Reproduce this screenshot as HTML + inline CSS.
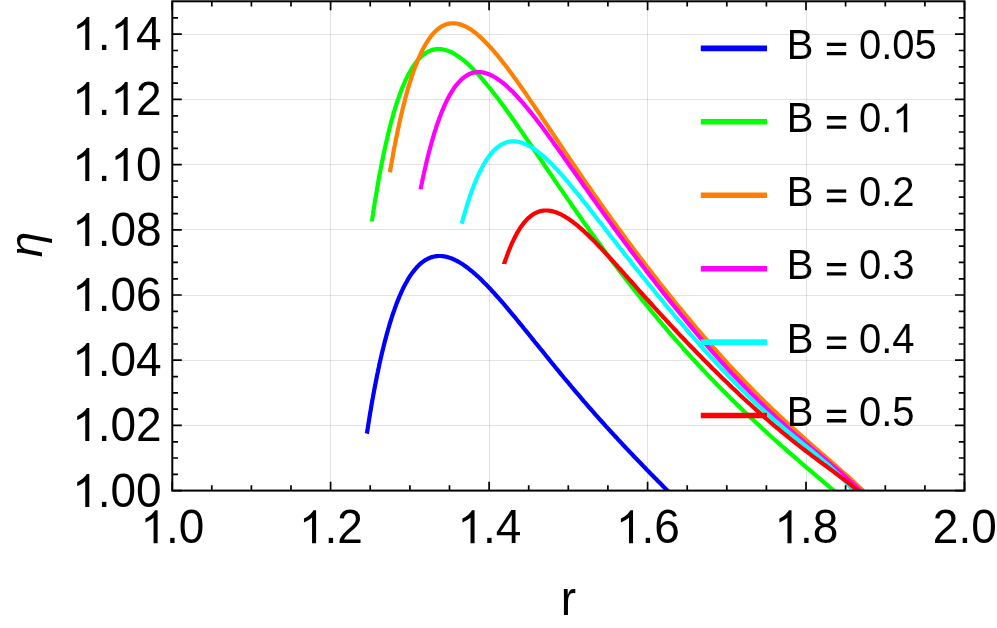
<!DOCTYPE html>
<html><head><meta charset="utf-8"><title>eta vs r</title>
<style>html,body{margin:0;padding:0;background:#fff}svg{display:block;will-change:transform}text{font-family:"Liberation Sans",sans-serif;fill:#000}</style></head><body>
<svg width="997" height="628" viewBox="0 0 997 628">
<rect width="997" height="628" fill="#fff"/>
<defs><clipPath id="c"><rect x="172.3" y="1.3" width="792.2" height="489.3"/></clipPath></defs>
<path d="M330.5,1.3 V490.65 M489.5,1.3 V490.65 M647.5,1.3 V490.65 M806.5,1.3 V490.65" stroke="#000" stroke-opacity="0.11" stroke-width="1" fill="none"/>
<path d="M172.3,425.5 H964.5 M172.3,360.5 H964.5 M172.3,295.5 H964.5 M172.3,229.5 H964.5 M172.3,164.5 H964.5 M172.3,99.5 H964.5 M172.3,34.5 H964.5" stroke="#000" stroke-opacity="0.11" stroke-width="1" fill="none"/>
<g clip-path="url(#c)" fill="none" stroke-linejoin="round" stroke-linecap="butt">
<path d="M366.9,433.6 L367.0,433.3 L367.0,432.8 L367.2,432.0 L367.3,431.0 L367.5,430.0 L367.7,428.7 L367.9,427.4 L368.1,425.9 L368.3,424.4 L368.6,422.7 L368.9,421.0 L369.2,419.1 L369.5,417.2 L369.8,415.3 L370.1,413.2 L370.5,411.1 L370.9,409.0 L371.2,406.8 L371.6,404.5 L372.0,402.2 L372.4,399.8 L372.9,397.4 L373.3,395.0 L373.8,392.5 L374.2,390.1 L374.7,387.5 L375.2,385.0 L375.7,382.5 L376.2,379.9 L376.7,377.3 L377.2,374.7 L377.8,372.1 L378.3,369.5 L378.9,366.9 L379.4,364.2 L380.0,361.6 L380.6,359.0 L381.2,356.4 L381.8,353.8 L382.4,351.2 L383.1,348.6 L383.7,346.0 L384.3,343.5 L385.0,340.9 L385.7,338.4 L386.3,335.9 L387.0,333.4 L387.7,331.0 L388.4,328.5 L389.1,326.1 L389.8,323.7 L390.5,321.4 L391.3,319.0 L392.0,316.7 L392.7,314.5 L393.5,312.2 L394.3,310.0 L395.0,307.9 L395.8,305.7 L396.6,303.6 L397.4,301.6 L398.2,299.6 L399.0,297.6 L399.8,295.7 L400.7,293.8 L401.5,291.9 L402.3,290.1 L403.2,288.3 L404.0,286.6 L404.9,284.9 L405.8,283.3 L406.7,281.7 L407.5,280.1 L408.4,278.6 L409.3,277.2 L410.2,275.8 L411.2,274.4 L412.1,273.1 L413.0,271.9 L414.0,270.6 L414.9,269.5 L415.9,268.4 L416.8,267.3 L417.8,266.3 L418.7,265.3 L419.7,264.4 L420.7,263.5 L421.7,262.7 L422.7,261.9 L423.7,261.2 L424.7,260.5 L425.7,259.9 L426.8,259.3 L427.8,258.7 L428.8,258.3 L429.9,257.8 L430.9,257.4 L432.0,257.1 L433.1,256.8 L434.1,256.5 L435.2,256.3 L436.3,256.2 L437.4,256.1 L438.5,256.0 L439.6,256.0 L440.7,256.0 L441.8,256.1 L442.9,256.2 L444.1,256.4 L445.2,256.6 L446.4,256.8 L447.5,257.1 L448.7,257.5 L449.8,257.8 L451.0,258.2 L452.2,258.7 L453.3,259.2 L454.5,259.7 L455.7,260.3 L456.9,260.9 L458.1,261.6 L459.3,262.3 L460.5,263.0 L461.8,263.8 L463.0,264.6 L464.2,265.4 L465.5,266.3 L466.7,267.2 L468.0,268.1 L469.2,269.1 L470.5,270.1 L471.7,271.2 L473.0,272.2 L474.3,273.3 L475.6,274.5 L476.9,275.6 L478.2,276.8 L479.5,278.0 L480.8,279.3 L482.1,280.6 L483.4,281.9 L484.7,283.2 L486.1,284.5 L487.4,285.9 L488.7,287.3 L490.1,288.7 L491.4,290.2 L492.8,291.7 L494.2,293.1 L495.5,294.7 L496.9,296.2 L498.3,297.7 L499.7,299.3 L501.1,300.9 L502.5,302.5 L503.9,304.2 L505.3,305.8 L506.7,307.5 L508.1,309.1 L509.5,310.8 L510.9,312.5 L512.4,314.3 L513.8,316.0 L515.3,317.7 L516.7,319.5 L518.2,321.3 L519.6,323.1 L521.1,324.9 L522.6,326.7 L524.0,328.5 L525.5,330.3 L527.0,332.1 L528.5,334.0 L530.0,335.8 L531.5,337.7 L533.0,339.6 L534.5,341.5 L536.0,343.3 L537.6,345.2 L539.1,347.1 L540.6,349.0 L542.2,350.9 L543.7,352.8 L545.3,354.8 L546.8,356.7 L548.4,358.6 L549.9,360.5 L551.5,362.5 L553.1,364.4 L554.6,366.3 L556.2,368.3 L557.8,370.2 L559.4,372.1 L561.0,374.1 L562.6,376.0 L564.2,378.0 L565.8,379.9 L567.5,381.8 L569.1,383.8 L570.7,385.7 L572.3,387.7 L574.0,389.6 L575.6,391.6 L577.3,393.5 L578.9,395.4 L580.6,397.4 L582.2,399.3 L583.9,401.3 L585.6,403.2 L587.2,405.1 L588.9,407.1 L590.6,409.0 L592.3,410.9 L594.0,412.8 L595.7,414.8 L597.4,416.7 L599.1,418.6 L600.8,420.5 L602.6,422.5 L604.3,424.4 L606.0,426.3 L607.7,428.2 L609.5,430.1 L611.2,432.0 L613.0,433.9 L614.7,435.8 L616.5,437.7 L618.2,439.6 L620.0,441.5 L621.8,443.4 L623.5,445.3 L625.3,447.2 L627.1,449.1 L628.9,451.0 L630.7,452.9 L632.5,454.8 L634.3,456.7 L636.1,458.6 L637.9,460.4 L639.7,462.3 L641.6,464.2 L643.4,466.1 L645.2,468.0 L647.0,469.9 L648.9,471.8 L650.7,473.7 L652.6,475.6 L654.4,477.4 L656.3,479.3 L658.1,481.2 L660.0,483.1 L661.9,485.0 L663.8,486.9 L665.6,488.8 L667.5,490.7 L669.4,492.7 L671.3,494.6 L673.2,496.5 L675.1,498.4" stroke="#0000ff" stroke-width="4.2"/>
<path d="M371.9,221.5 L371.9,221.1 L372.0,220.2 L372.2,219.0 L372.4,217.5 L372.7,215.8 L373.0,214.0 L373.3,211.9 L373.7,209.7 L374.0,207.3 L374.4,204.8 L374.8,202.1 L375.3,199.3 L375.8,196.5 L376.3,193.5 L376.8,190.5 L377.3,187.4 L377.9,184.2 L378.4,181.0 L379.0,177.7 L379.6,174.3 L380.3,170.9 L380.9,167.5 L381.6,164.1 L382.3,160.7 L383.0,157.2 L383.7,153.7 L384.5,150.2 L385.2,146.8 L386.0,143.3 L386.8,139.9 L387.6,136.5 L388.4,133.1 L389.2,129.7 L390.1,126.3 L390.9,123.0 L391.8,119.8 L392.7,116.6 L393.6,113.4 L394.5,110.3 L395.5,107.2 L396.4,104.2 L397.4,101.3 L398.4,98.4 L399.4,95.6 L400.4,92.8 L401.4,90.1 L402.4,87.5 L403.5,85.0 L404.6,82.5 L405.6,80.2 L406.7,77.9 L407.8,75.7 L408.9,73.5 L410.1,71.5 L411.2,69.5 L412.3,67.7 L413.5,65.9 L414.7,64.2 L415.9,62.6 L417.1,61.1 L418.3,59.6 L419.5,58.3 L420.7,57.1 L422.0,55.9 L423.2,54.8 L424.5,53.9 L425.8,53.0 L427.1,52.2 L428.4,51.5 L429.7,50.9 L431.0,50.3 L432.4,49.9 L433.7,49.6 L435.1,49.3 L436.5,49.1 L437.8,49.0 L439.2,49.0 L440.6,49.1 L442.1,49.3 L443.5,49.5 L444.9,49.9 L446.4,50.3 L447.8,50.8 L449.3,51.4 L450.8,52.0 L452.3,52.7 L453.8,53.5 L455.3,54.4 L456.8,55.4 L458.3,56.4 L459.9,57.5 L461.4,58.6 L463.0,59.9 L464.6,61.2 L466.2,62.5 L467.8,63.9 L469.4,65.4 L471.0,67.0 L472.6,68.6 L474.2,70.2 L475.9,72.0 L477.5,73.7 L479.2,75.6 L480.9,77.4 L482.5,79.4 L484.2,81.4 L485.9,83.4 L487.6,85.5 L489.4,87.6 L491.1,89.8 L492.8,92.0 L494.6,94.2 L496.3,96.5 L498.1,98.8 L499.9,101.2 L501.7,103.6 L503.5,106.0 L505.3,108.5 L507.1,111.0 L508.9,113.6 L510.7,116.1 L512.6,118.7 L514.4,121.3 L516.3,124.0 L518.2,126.7 L520.0,129.4 L521.9,132.1 L523.8,134.8 L525.7,137.6 L527.6,140.4 L529.6,143.2 L531.5,146.0 L533.4,148.9 L535.4,151.7 L537.3,154.6 L539.3,157.5 L541.3,160.4 L543.3,163.3 L545.2,166.3 L547.2,169.2 L549.3,172.2 L551.3,175.1 L553.3,178.1 L555.3,181.1 L557.4,184.1 L559.4,187.1 L561.5,190.1 L563.6,193.1 L565.6,196.1 L567.7,199.1 L569.8,202.1 L571.9,205.2 L574.0,208.2 L576.1,211.2 L578.3,214.3 L580.4,217.3 L582.5,220.4 L584.7,223.4 L586.9,226.4 L589.0,229.5 L591.2,232.5 L593.4,235.5 L595.6,238.6 L597.8,241.6 L600.0,244.6 L602.2,247.7 L604.4,250.7 L606.7,253.7 L608.9,256.7 L611.1,259.8 L613.4,262.8 L615.7,265.8 L617.9,268.8 L620.2,271.8 L622.5,274.8 L624.8,277.7 L627.1,280.7 L629.4,283.7 L631.7,286.7 L634.1,289.6 L636.4,292.6 L638.7,295.5 L641.1,298.5 L643.4,301.4 L645.8,304.3 L648.2,307.2 L650.6,310.2 L653.0,313.1 L655.4,315.9 L657.8,318.8 L660.2,321.7 L662.6,324.6 L665.0,327.4 L667.4,330.3 L669.9,333.1 L672.3,336.0 L674.8,338.8 L677.3,341.6 L679.7,344.4 L682.2,347.2 L684.7,350.0 L687.2,352.7 L689.7,355.5 L692.2,358.3 L694.7,361.0 L697.2,363.7 L699.8,366.5 L702.3,369.2 L704.9,371.9 L707.4,374.6 L710.0,377.3 L712.5,379.9 L715.1,382.6 L717.7,385.2 L720.3,387.9 L722.9,390.5 L725.5,393.1 L728.1,395.7 L730.7,398.3 L733.3,400.9 L736.0,403.5 L738.6,406.1 L741.3,408.7 L743.9,411.2 L746.6,413.7 L749.2,416.3 L751.9,418.8 L754.6,421.3 L757.3,423.8 L760.0,426.3 L762.7,428.8 L765.4,431.3 L768.1,433.7 L770.8,436.2 L773.6,438.7 L776.3,441.1 L779.1,443.6 L781.8,446.0 L784.6,448.4 L787.3,450.9 L790.1,453.3 L792.9,455.7 L795.7,458.1 L798.5,460.5 L801.3,463.0 L804.1,465.4 L806.9,467.8 L809.7,470.2 L812.5,472.6 L815.4,475.0 L818.2,477.4 L821.1,479.9 L823.9,482.3 L826.8,484.7 L829.7,487.2 L832.5,489.6 L835.4,492.1 L838.3,494.5 L841.2,497.0" stroke="#00ff00" stroke-width="4.2"/>
<path d="M389.9,172.3 L390.0,171.9 L390.1,171.1 L390.3,170.0 L390.5,168.7 L390.8,167.2 L391.1,165.5 L391.4,163.6 L391.8,161.6 L392.1,159.5 L392.6,157.2 L393.0,154.8 L393.4,152.3 L393.9,149.8 L394.4,147.1 L395.0,144.4 L395.5,141.5 L396.1,138.7 L396.7,135.8 L397.3,132.8 L397.9,129.8 L398.6,126.7 L399.2,123.7 L399.9,120.6 L400.6,117.5 L401.3,114.4 L402.1,111.2 L402.8,108.1 L403.6,105.0 L404.4,101.9 L405.2,98.8 L406.0,95.8 L406.9,92.7 L407.7,89.7 L408.6,86.7 L409.5,83.8 L410.4,80.9 L411.3,78.0 L412.2,75.2 L413.2,72.4 L414.1,69.7 L415.1,67.1 L416.1,64.5 L417.1,61.9 L418.1,59.5 L419.2,57.1 L420.2,54.8 L421.3,52.5 L422.3,50.3 L423.4,48.2 L424.5,46.2 L425.6,44.2 L426.8,42.4 L427.9,40.6 L429.1,38.9 L430.2,37.3 L431.4,35.7 L432.6,34.3 L433.8,32.9 L435.0,31.6 L436.2,30.5 L437.5,29.4 L438.7,28.4 L440.0,27.5 L441.3,26.6 L442.6,25.9 L443.9,25.3 L445.2,24.7 L446.5,24.2 L447.8,23.9 L449.2,23.6 L450.6,23.4 L451.9,23.3 L453.3,23.3 L454.7,23.3 L456.1,23.5 L457.5,23.7 L459.0,24.1 L460.4,24.5 L461.9,25.0 L463.3,25.5 L464.8,26.2 L466.3,26.9 L467.8,27.7 L469.3,28.6 L470.8,29.6 L472.3,30.6 L473.9,31.8 L475.4,32.9 L477.0,34.2 L478.5,35.5 L480.1,36.9 L481.7,38.4 L483.3,39.9 L484.9,41.5 L486.5,43.2 L488.2,44.9 L489.8,46.7 L491.5,48.5 L493.1,50.4 L494.8,52.3 L496.5,54.3 L498.2,56.4 L499.9,58.5 L501.6,60.6 L503.3,62.8 L505.1,65.0 L506.8,67.3 L508.6,69.6 L510.3,72.0 L512.1,74.4 L513.9,76.9 L515.7,79.3 L517.5,81.9 L519.3,84.4 L521.1,87.0 L522.9,89.6 L524.8,92.2 L526.6,94.9 L528.5,97.6 L530.3,100.3 L532.2,103.1 L534.1,105.9 L536.0,108.7 L537.9,111.5 L539.8,114.3 L541.7,117.2 L543.7,120.1 L545.6,122.9 L547.6,125.9 L549.5,128.8 L551.5,131.7 L553.5,134.7 L555.5,137.6 L557.5,140.6 L559.5,143.6 L561.5,146.6 L563.5,149.6 L565.5,152.6 L567.6,155.6 L569.6,158.7 L571.7,161.7 L573.7,164.8 L575.8,167.8 L577.9,170.9 L580.0,173.9 L582.1,177.0 L584.2,180.1 L586.3,183.1 L588.5,186.2 L590.6,189.3 L592.7,192.4 L594.9,195.4 L597.1,198.5 L599.2,201.6 L601.4,204.7 L603.6,207.8 L605.8,210.9 L608.0,213.9 L610.2,217.0 L612.4,220.1 L614.7,223.2 L616.9,226.3 L619.1,229.4 L621.4,232.4 L623.7,235.5 L625.9,238.6 L628.2,241.7 L630.5,244.8 L632.8,247.8 L635.1,250.9 L637.4,254.0 L639.7,257.0 L642.1,260.1 L644.4,263.2 L646.7,266.2 L649.1,269.3 L651.4,272.3 L653.8,275.4 L656.2,278.4 L658.6,281.5 L661.0,284.5 L663.4,287.5 L665.8,290.6 L668.2,293.6 L670.6,296.6 L673.0,299.6 L675.5,302.7 L677.9,305.7 L680.4,308.7 L682.8,311.7 L685.3,314.6 L687.8,317.6 L690.3,320.6 L692.8,323.6 L695.3,326.5 L697.8,329.5 L700.3,332.4 L702.8,335.4 L705.4,338.3 L707.9,341.2 L710.5,344.2 L713.0,347.1 L715.6,350.0 L718.1,352.8 L720.7,355.7 L723.3,358.6 L725.9,361.4 L728.5,364.3 L731.1,367.1 L733.7,369.9 L736.3,372.7 L739.0,375.5 L741.6,378.3 L744.3,381.1 L746.9,383.8 L749.6,386.5 L752.2,389.3 L754.9,392.0 L757.6,394.7 L760.3,397.4 L763.0,400.0 L765.7,402.7 L768.4,405.3 L771.1,407.9 L773.8,410.5 L776.6,413.1 L779.3,415.7 L782.1,418.3 L784.8,420.8 L787.6,423.4 L790.4,425.9 L793.1,428.4 L795.9,430.9 L798.7,433.4 L801.5,435.9 L804.3,438.4 L807.1,440.9 L809.9,443.3 L812.8,445.8 L815.6,448.3 L818.5,450.7 L821.3,453.2 L824.2,455.7 L827.0,458.2 L829.9,460.6 L832.8,463.2 L835.7,465.7 L838.5,468.2 L841.4,470.8 L844.3,473.3 L847.3,475.9 L850.2,478.6 L853.1,481.3 L856.0,484.0 L859.0,486.8 L861.9,489.6 L864.9,492.5 L867.8,495.4 L870.8,498.4" stroke="#ff8000" stroke-width="4.2"/>
<path d="M420.6,189.2 L420.6,188.9 L420.8,188.3 L420.9,187.4 L421.1,186.4 L421.4,185.2 L421.7,183.9 L422.0,182.5 L422.3,180.9 L422.6,179.2 L423.0,177.5 L423.4,175.6 L423.9,173.7 L424.3,171.6 L424.8,169.6 L425.3,167.4 L425.8,165.2 L426.3,163.0 L426.8,160.7 L427.4,158.4 L428.0,156.0 L428.6,153.7 L429.2,151.3 L429.9,148.8 L430.5,146.4 L431.2,144.0 L431.9,141.5 L432.6,139.1 L433.3,136.6 L434.0,134.2 L434.8,131.7 L435.6,129.3 L436.3,126.9 L437.1,124.5 L437.9,122.2 L438.8,119.9 L439.6,117.6 L440.5,115.3 L441.3,113.1 L442.2,110.9 L443.1,108.8 L444.0,106.7 L444.9,104.6 L445.9,102.6 L446.8,100.6 L447.8,98.7 L448.7,96.9 L449.7,95.1 L450.7,93.4 L451.7,91.7 L452.8,90.1 L453.8,88.5 L454.8,87.0 L455.9,85.6 L457.0,84.3 L458.1,83.0 L459.2,81.8 L460.3,80.6 L461.4,79.5 L462.5,78.5 L463.7,77.6 L464.8,76.7 L466.0,75.9 L467.2,75.2 L468.3,74.6 L469.5,74.0 L470.8,73.5 L472.0,73.1 L473.2,72.7 L474.5,72.5 L475.7,72.3 L477.0,72.1 L478.2,72.1 L479.5,72.1 L480.8,72.2 L482.1,72.4 L483.5,72.6 L484.8,72.9 L486.1,73.3 L487.5,73.7 L488.8,74.2 L490.2,74.8 L491.6,75.5 L493.0,76.2 L494.4,77.0 L495.8,77.8 L497.2,78.7 L498.6,79.7 L500.1,80.7 L501.5,81.8 L503.0,83.0 L504.5,84.2 L505.9,85.4 L507.4,86.8 L508.9,88.2 L510.4,89.6 L512.0,91.1 L513.5,92.6 L515.0,94.2 L516.6,95.9 L518.1,97.5 L519.7,99.3 L521.3,101.1 L522.9,102.9 L524.4,104.8 L526.0,106.7 L527.7,108.6 L529.3,110.6 L530.9,112.6 L532.6,114.7 L534.2,116.8 L535.9,118.9 L537.5,121.1 L539.2,123.3 L540.9,125.5 L542.6,127.8 L544.3,130.1 L546.0,132.4 L547.7,134.7 L549.4,137.1 L551.2,139.5 L552.9,141.9 L554.7,144.4 L556.4,146.8 L558.2,149.3 L560.0,151.8 L561.8,154.3 L563.6,156.9 L565.4,159.4 L567.2,162.0 L569.0,164.6 L570.8,167.2 L572.7,169.8 L574.5,172.4 L576.4,175.0 L578.3,177.7 L580.1,180.3 L582.0,183.0 L583.9,185.7 L585.8,188.4 L587.7,191.1 L589.6,193.8 L591.5,196.5 L593.5,199.2 L595.4,201.9 L597.4,204.7 L599.3,207.4 L601.3,210.1 L603.2,212.9 L605.2,215.6 L607.2,218.4 L609.2,221.1 L611.2,223.9 L613.2,226.7 L615.2,229.4 L617.3,232.2 L619.3,235.0 L621.3,237.7 L623.4,240.5 L625.4,243.3 L627.5,246.1 L629.6,248.9 L631.7,251.6 L633.8,254.4 L635.9,257.2 L638.0,260.0 L640.1,262.8 L642.2,265.5 L644.3,268.3 L646.4,271.1 L648.6,273.9 L650.7,276.7 L652.9,279.4 L655.1,282.2 L657.2,285.0 L659.4,287.8 L661.6,290.6 L663.8,293.3 L666.0,296.1 L668.2,298.9 L670.4,301.6 L672.7,304.4 L674.9,307.2 L677.1,309.9 L679.4,312.7 L681.6,315.5 L683.9,318.2 L686.2,321.0 L688.4,323.7 L690.7,326.4 L693.0,329.2 L695.3,331.9 L697.6,334.6 L699.9,337.3 L702.2,340.1 L704.6,342.8 L706.9,345.5 L709.2,348.2 L711.6,350.8 L713.9,353.5 L716.3,356.2 L718.7,358.8 L721.0,361.5 L723.4,364.1 L725.8,366.8 L728.2,369.4 L730.6,372.0 L733.0,374.6 L735.5,377.1 L737.9,379.7 L740.3,382.3 L742.8,384.8 L745.2,387.3 L747.7,389.9 L750.1,392.4 L752.6,394.8 L755.1,397.3 L757.5,399.8 L760.0,402.2 L762.5,404.6 L765.0,407.0 L767.5,409.4 L770.0,411.8 L772.6,414.1 L775.1,416.5 L777.6,418.8 L780.2,421.1 L782.7,423.4 L785.3,425.7 L787.8,428.0 L790.4,430.2 L793.0,432.4 L795.6,434.7 L798.2,436.9 L800.8,439.1 L803.4,441.3 L806.0,443.5 L808.6,445.7 L811.2,447.9 L813.8,450.1 L816.5,452.2 L819.1,454.4 L821.8,456.6 L824.4,458.8 L827.1,461.0 L829.8,463.3 L832.4,465.5 L835.1,467.8 L837.8,470.1 L840.5,472.4 L843.2,474.8 L845.9,477.2 L848.6,479.7 L851.3,482.2 L854.1,484.7 L856.8,487.4 L859.5,490.1 L862.3,492.8 L865.0,495.7 L867.8,498.7" stroke="#ff00ff" stroke-width="4.2"/>
<path d="M461.8,223.6 L461.9,223.4 L462.0,223.0 L462.1,222.4 L462.3,221.7 L462.5,220.9 L462.8,220.0 L463.0,219.0 L463.3,217.9 L463.7,216.8 L464.0,215.6 L464.4,214.3 L464.7,213.0 L465.1,211.6 L465.6,210.2 L466.0,208.7 L466.5,207.2 L466.9,205.6 L467.4,204.1 L467.9,202.5 L468.4,200.8 L469.0,199.2 L469.5,197.5 L470.1,195.8 L470.7,194.1 L471.3,192.4 L471.9,190.7 L472.5,189.0 L473.2,187.3 L473.8,185.6 L474.5,183.9 L475.2,182.2 L475.9,180.5 L476.6,178.8 L477.3,177.2 L478.0,175.5 L478.8,173.9 L479.5,172.3 L480.3,170.8 L481.1,169.2 L481.9,167.7 L482.7,166.2 L483.5,164.7 L484.4,163.3 L485.2,161.9 L486.1,160.5 L486.9,159.2 L487.8,157.9 L488.7,156.7 L489.6,155.5 L490.5,154.3 L491.4,153.2 L492.4,152.1 L493.3,151.1 L494.3,150.1 L495.2,149.2 L496.2,148.3 L497.2,147.5 L498.2,146.7 L499.2,146.0 L500.2,145.3 L501.3,144.6 L502.3,144.1 L503.4,143.6 L504.4,143.1 L505.5,142.7 L506.6,142.3 L507.7,142.0 L508.8,141.8 L509.9,141.6 L511.0,141.4 L512.1,141.3 L513.3,141.3 L514.4,141.3 L515.6,141.4 L516.7,141.5 L517.9,141.7 L519.1,142.0 L520.3,142.3 L521.5,142.6 L522.7,143.0 L523.9,143.5 L525.2,144.0 L526.4,144.5 L527.6,145.1 L528.9,145.8 L530.2,146.5 L531.4,147.3 L532.7,148.1 L534.0,148.9 L535.3,149.8 L536.6,150.8 L538.0,151.8 L539.3,152.8 L540.6,153.9 L542.0,155.0 L543.3,156.2 L544.7,157.4 L546.1,158.7 L547.4,160.0 L548.8,161.3 L550.2,162.7 L551.6,164.1 L553.0,165.5 L554.5,167.0 L555.9,168.5 L557.3,170.0 L558.8,171.6 L560.2,173.2 L561.7,174.9 L563.2,176.5 L564.6,178.2 L566.1,180.0 L567.6,181.7 L569.1,183.5 L570.6,185.3 L572.1,187.1 L573.7,189.0 L575.2,190.9 L576.7,192.8 L578.3,194.7 L579.9,196.6 L581.4,198.6 L583.0,200.6 L584.6,202.6 L586.2,204.6 L587.8,206.6 L589.4,208.6 L591.0,210.7 L592.6,212.8 L594.2,214.9 L595.8,217.0 L597.5,219.1 L599.1,221.2 L600.8,223.3 L602.5,225.5 L604.1,227.6 L605.8,229.8 L607.5,232.0 L609.2,234.2 L610.9,236.4 L612.6,238.5 L614.3,240.8 L616.0,243.0 L617.8,245.2 L619.5,247.4 L621.2,249.6 L623.0,251.9 L624.7,254.1 L626.5,256.4 L628.3,258.6 L630.1,260.9 L631.8,263.1 L633.6,265.4 L635.4,267.7 L637.2,269.9 L639.1,272.2 L640.9,274.5 L642.7,276.8 L644.5,279.0 L646.4,281.3 L648.2,283.6 L650.1,285.9 L652.0,288.2 L653.8,290.5 L655.7,292.8 L657.6,295.1 L659.5,297.4 L661.4,299.7 L663.3,302.0 L665.2,304.3 L667.1,306.6 L669.0,308.9 L671.0,311.2 L672.9,313.5 L674.8,315.8 L676.8,318.1 L678.7,320.4 L680.7,322.7 L682.7,325.0 L684.7,327.4 L686.6,329.7 L688.6,332.0 L690.6,334.3 L692.6,336.6 L694.6,338.9 L696.7,341.2 L698.7,343.5 L700.7,345.8 L702.8,348.0 L704.8,350.3 L706.8,352.6 L708.9,354.9 L711.0,357.2 L713.0,359.4 L715.1,361.7 L717.2,364.0 L719.3,366.2 L721.4,368.5 L723.5,370.7 L725.6,372.9 L727.7,375.2 L729.8,377.4 L731.9,379.6 L734.1,381.8 L736.2,384.0 L738.4,386.1 L740.5,388.3 L742.7,390.5 L744.8,392.6 L747.0,394.7 L749.2,396.9 L751.4,399.0 L753.5,401.1 L755.7,403.1 L757.9,405.2 L760.1,407.3 L762.4,409.3 L764.6,411.3 L766.8,413.3 L769.0,415.3 L771.3,417.3 L773.5,419.3 L775.8,421.3 L778.0,423.2 L780.3,425.1 L782.5,427.1 L784.8,429.0 L787.1,430.9 L789.4,432.8 L791.7,434.7 L794.0,436.6 L796.3,438.4 L798.6,440.3 L800.9,442.2 L803.2,444.1 L805.6,446.0 L807.9,447.8 L810.2,449.7 L812.6,451.7 L814.9,453.6 L817.3,455.5 L819.6,457.5 L822.0,459.5 L824.4,461.6 L826.8,463.7 L829.2,465.8 L831.5,468.0 L833.9,470.2 L836.3,472.5 L838.8,474.8 L841.2,477.3 L843.6,479.8 L846.0,482.4 L848.5,485.2 L850.9,488.0 L853.3,491.0 L855.8,494.1 L858.2,497.4 L860.7,500.8" stroke="#00ffff" stroke-width="4.2"/>
<path d="M504.1,264.0 L504.1,263.8 L504.2,263.5 L504.4,263.1 L504.5,262.6 L504.7,262.0 L504.9,261.4 L505.2,260.7 L505.5,259.9 L505.7,259.0 L506.1,258.2 L506.4,257.3 L506.7,256.3 L507.1,255.3 L507.5,254.3 L507.9,253.2 L508.3,252.1 L508.7,251.0 L509.1,249.9 L509.6,248.8 L510.1,247.6 L510.6,246.5 L511.1,245.3 L511.6,244.1 L512.1,242.9 L512.7,241.7 L513.2,240.6 L513.8,239.4 L514.4,238.2 L515.0,237.0 L515.6,235.8 L516.2,234.7 L516.8,233.5 L517.5,232.4 L518.1,231.3 L518.8,230.2 L519.5,229.1 L520.1,228.0 L520.8,227.0 L521.6,226.0 L522.3,225.0 L523.0,224.0 L523.8,223.1 L524.5,222.1 L525.3,221.2 L526.1,220.4 L526.8,219.6 L527.6,218.8 L528.4,218.0 L529.3,217.3 L530.1,216.6 L530.9,215.9 L531.8,215.3 L532.6,214.7 L533.5,214.1 L534.4,213.6 L535.3,213.2 L536.2,212.7 L537.1,212.3 L538.0,212.0 L538.9,211.6 L539.8,211.3 L540.8,211.1 L541.7,210.9 L542.7,210.7 L543.7,210.6 L544.6,210.5 L545.6,210.5 L546.6,210.5 L547.6,210.5 L548.7,210.6 L549.7,210.8 L550.7,210.9 L551.7,211.1 L552.8,211.4 L553.9,211.6 L554.9,212.0 L556.0,212.3 L557.1,212.7 L558.2,213.2 L559.3,213.6 L560.4,214.2 L561.5,214.7 L562.6,215.3 L563.8,215.9 L564.9,216.6 L566.0,217.3 L567.2,218.0 L568.4,218.8 L569.5,219.6 L570.7,220.4 L571.9,221.2 L573.1,222.1 L574.3,223.1 L575.5,224.0 L576.7,225.0 L578.0,226.0 L579.2,227.1 L580.4,228.1 L581.7,229.3 L583.0,230.4 L584.2,231.5 L585.5,232.7 L586.8,233.9 L588.1,235.1 L589.4,236.4 L590.7,237.7 L592.0,239.0 L593.3,240.3 L594.6,241.6 L596.0,243.0 L597.3,244.4 L598.6,245.8 L600.0,247.2 L601.4,248.6 L602.7,250.1 L604.1,251.6 L605.5,253.1 L606.9,254.6 L608.3,256.1 L609.7,257.6 L611.1,259.2 L612.5,260.7 L613.9,262.3 L615.4,263.9 L616.8,265.5 L618.2,267.1 L619.7,268.7 L621.2,270.3 L622.6,272.0 L624.1,273.6 L625.6,275.3 L627.1,277.0 L628.6,278.6 L630.1,280.3 L631.6,282.0 L633.1,283.7 L634.6,285.4 L636.1,287.1 L637.7,288.9 L639.2,290.6 L640.8,292.3 L642.3,294.0 L643.9,295.8 L645.4,297.5 L647.0,299.3 L648.6,301.0 L650.2,302.8 L651.8,304.5 L653.4,306.3 L655.0,308.1 L656.6,309.8 L658.2,311.6 L659.8,313.4 L661.5,315.2 L663.1,317.0 L664.8,318.7 L666.4,320.5 L668.1,322.3 L669.7,324.1 L671.4,325.9 L673.1,327.7 L674.8,329.5 L676.5,331.3 L678.1,333.1 L679.8,334.9 L681.6,336.7 L683.3,338.5 L685.0,340.3 L686.7,342.1 L688.4,343.9 L690.2,345.7 L691.9,347.5 L693.7,349.3 L695.4,351.1 L697.2,352.9 L699.0,354.7 L700.7,356.5 L702.5,358.4 L704.3,360.2 L706.1,362.0 L707.9,363.8 L709.7,365.6 L711.5,367.4 L713.3,369.2 L715.2,371.0 L717.0,372.8 L718.8,374.6 L720.7,376.4 L722.5,378.2 L724.4,380.0 L726.2,381.8 L728.1,383.6 L730.0,385.4 L731.8,387.2 L733.7,389.0 L735.6,390.8 L737.5,392.6 L739.4,394.4 L741.3,396.2 L743.2,398.0 L745.1,399.7 L747.0,401.5 L749.0,403.3 L750.9,405.0 L752.8,406.8 L754.8,408.5 L756.7,410.3 L758.7,412.0 L760.6,413.8 L762.6,415.5 L764.6,417.3 L766.6,419.0 L768.6,420.7 L770.5,422.4 L772.5,424.1 L774.5,425.8 L776.5,427.5 L778.6,429.2 L780.6,430.9 L782.6,432.5 L784.6,434.2 L786.7,435.9 L788.7,437.5 L790.7,439.2 L792.8,440.8 L794.8,442.4 L796.9,444.1 L799.0,445.7 L801.0,447.3 L803.1,448.9 L805.2,450.5 L807.3,452.1 L809.4,453.7 L811.5,455.3 L813.6,456.9 L815.7,458.4 L817.8,460.0 L819.9,461.6 L822.1,463.2 L824.2,464.8 L826.3,466.3 L828.5,467.9 L830.6,469.5 L832.8,471.1 L834.9,472.7 L837.1,474.3 L839.3,476.0 L841.4,477.6 L843.6,479.2 L845.8,480.9 L848.0,482.6 L850.2,484.3 L852.4,486.1 L854.6,487.8 L856.8,489.6 L859.0,491.4 L861.2,493.3 L863.5,495.2 L865.7,497.2" stroke="#ff0000" stroke-width="4.2"/>
</g>
<path d="M172.2,490.65 v-9.0 M172.2,1.3 v9.0 M211.8,490.65 v-5.3 M211.8,1.3 v5.3 M251.4,490.65 v-5.3 M251.4,1.3 v5.3 M291.0,490.65 v-5.3 M291.0,1.3 v5.3 M330.6,490.65 v-9.0 M330.6,1.3 v9.0 M370.2,490.65 v-5.3 M370.2,1.3 v5.3 M409.9,490.65 v-5.3 M409.9,1.3 v5.3 M449.5,490.65 v-5.3 M449.5,1.3 v5.3 M489.1,490.65 v-9.0 M489.1,1.3 v9.0 M528.7,490.65 v-5.3 M528.7,1.3 v5.3 M568.3,490.65 v-5.3 M568.3,1.3 v5.3 M607.9,490.65 v-5.3 M607.9,1.3 v5.3 M647.6,490.65 v-9.0 M647.6,1.3 v9.0 M687.2,490.65 v-5.3 M687.2,1.3 v5.3 M726.8,490.65 v-5.3 M726.8,1.3 v5.3 M766.4,490.65 v-5.3 M766.4,1.3 v5.3 M806.0,490.65 v-9.0 M806.0,1.3 v9.0 M845.6,490.65 v-5.3 M845.6,1.3 v5.3 M885.3,490.65 v-5.3 M885.3,1.3 v5.3 M924.9,490.65 v-5.3 M924.9,1.3 v5.3 M964.5,490.65 v-9.0 M964.5,1.3 v9.0 M172.3,490.6 h9.5 M964.5,490.6 h-9.5 M172.3,474.4 h5.7 M964.5,474.4 h-5.7 M172.3,458.0 h5.7 M964.5,458.0 h-5.7 M172.3,441.8 h5.7 M964.5,441.8 h-5.7 M172.3,425.4 h9.5 M964.5,425.4 h-9.5 M172.3,409.2 h5.7 M964.5,409.2 h-5.7 M172.3,392.8 h5.7 M964.5,392.8 h-5.7 M172.3,376.6 h5.7 M964.5,376.6 h-5.7 M172.3,360.2 h9.5 M964.5,360.2 h-9.5 M172.3,344.0 h5.7 M964.5,344.0 h-5.7 M172.3,327.6 h5.7 M964.5,327.6 h-5.7 M172.3,311.4 h5.7 M964.5,311.4 h-5.7 M172.3,295.0 h9.5 M964.5,295.0 h-9.5 M172.3,278.8 h5.7 M964.5,278.8 h-5.7 M172.3,262.4 h5.7 M964.5,262.4 h-5.7 M172.3,246.2 h5.7 M964.5,246.2 h-5.7 M172.3,229.8 h9.5 M964.5,229.8 h-9.5 M172.3,213.6 h5.7 M964.5,213.6 h-5.7 M172.3,197.2 h5.7 M964.5,197.2 h-5.7 M172.3,181.0 h5.7 M964.5,181.0 h-5.7 M172.3,164.6 h9.5 M964.5,164.6 h-9.5 M172.3,148.4 h5.7 M964.5,148.4 h-5.7 M172.3,132.0 h5.7 M964.5,132.0 h-5.7 M172.3,115.8 h5.7 M964.5,115.8 h-5.7 M172.3,99.4 h9.5 M964.5,99.4 h-9.5 M172.3,83.1 h5.7 M964.5,83.1 h-5.7 M172.3,66.9 h5.7 M964.5,66.9 h-5.7 M172.3,50.5 h5.7 M964.5,50.5 h-5.7 M172.3,34.2 h9.5 M964.5,34.2 h-9.5 M172.3,17.9 h5.7 M964.5,17.9 h-5.7" stroke="#000" stroke-width="1.7" fill="none"/>
<rect x="172.3" y="1.3" width="792.2" height="489.3" fill="none" stroke="#000" stroke-width="2.0"/>
<path transform="translate(72.17,507.0) scale(0.02246,-0.02246)" d="M763 0H583V1147Q518 1085 412.5 1023T223 930V1104Q374 1175 487 1276T647 1472H763Z"/><text transform="translate(97.75,507.0) scale(1,1.045)" font-size="46">.00</text>
<path transform="translate(72.17,441.0) scale(0.02246,-0.02246)" d="M763 0H583V1147Q518 1085 412.5 1023T223 930V1104Q374 1175 487 1276T647 1472H763Z"/><text transform="translate(97.75,441.0) scale(1,1.045)" font-size="46">.02</text>
<path transform="translate(72.17,376.0) scale(0.02246,-0.02246)" d="M763 0H583V1147Q518 1085 412.5 1023T223 930V1104Q374 1175 487 1276T647 1472H763Z"/><text transform="translate(97.75,376.0) scale(1,1.045)" font-size="46">.04</text>
<path transform="translate(72.17,311.0) scale(0.02246,-0.02246)" d="M763 0H583V1147Q518 1085 412.5 1023T223 930V1104Q374 1175 487 1276T647 1472H763Z"/><text transform="translate(97.75,311.0) scale(1,1.045)" font-size="46">.06</text>
<path transform="translate(72.17,246.0) scale(0.02246,-0.02246)" d="M763 0H583V1147Q518 1085 412.5 1023T223 930V1104Q374 1175 487 1276T647 1472H763Z"/><text transform="translate(97.75,246.0) scale(1,1.045)" font-size="46">.08</text>
<path transform="translate(72.17,181.0) scale(0.02246,-0.02246)" d="M763 0H583V1147Q518 1085 412.5 1023T223 930V1104Q374 1175 487 1276T647 1472H763Z"/><text transform="translate(97.75,181.0) scale(1,1.045)" font-size="46">.</text><path transform="translate(110.53,181.0) scale(0.02246,-0.02246)" d="M763 0H583V1147Q518 1085 412.5 1023T223 930V1104Q374 1175 487 1276T647 1472H763Z"/><text transform="translate(136.12,181.0) scale(1,1.045)" font-size="46">0</text>
<path transform="translate(72.17,115.0) scale(0.02246,-0.02246)" d="M763 0H583V1147Q518 1085 412.5 1023T223 930V1104Q374 1175 487 1276T647 1472H763Z"/><text transform="translate(97.75,115.0) scale(1,1.045)" font-size="46">.</text><path transform="translate(110.53,115.0) scale(0.02246,-0.02246)" d="M763 0H583V1147Q518 1085 412.5 1023T223 930V1104Q374 1175 487 1276T647 1472H763Z"/><text transform="translate(136.12,115.0) scale(1,1.045)" font-size="46">2</text>
<path transform="translate(72.17,50.0) scale(0.02246,-0.02246)" d="M763 0H583V1147Q518 1085 412.5 1023T223 930V1104Q374 1175 487 1276T647 1472H763Z"/><text transform="translate(97.75,50.0) scale(1,1.045)" font-size="46">.</text><path transform="translate(110.53,50.0) scale(0.02246,-0.02246)" d="M763 0H583V1147Q518 1085 412.5 1023T223 930V1104Q374 1175 487 1276T647 1472H763Z"/><text transform="translate(136.12,50.0) scale(1,1.045)" font-size="46">4</text>
<path transform="translate(140.48,543.3) scale(0.02246,-0.02246)" d="M763 0H583V1147Q518 1085 412.5 1023T223 930V1104Q374 1175 487 1276T647 1472H763Z"/><text transform="translate(166.06,543.3) scale(1,1.045)" font-size="46">.0</text>
<path transform="translate(298.95,543.3) scale(0.02246,-0.02246)" d="M763 0H583V1147Q518 1085 412.5 1023T223 930V1104Q374 1175 487 1276T647 1472H763Z"/><text transform="translate(324.53,543.3) scale(1,1.045)" font-size="46">.2</text>
<path transform="translate(457.42,543.3) scale(0.02246,-0.02246)" d="M763 0H583V1147Q518 1085 412.5 1023T223 930V1104Q374 1175 487 1276T647 1472H763Z"/><text transform="translate(483.00,543.3) scale(1,1.045)" font-size="46">.4</text>
<path transform="translate(615.89,543.3) scale(0.02246,-0.02246)" d="M763 0H583V1147Q518 1085 412.5 1023T223 930V1104Q374 1175 487 1276T647 1472H763Z"/><text transform="translate(641.47,543.3) scale(1,1.045)" font-size="46">.6</text>
<path transform="translate(774.36,543.3) scale(0.02246,-0.02246)" d="M763 0H583V1147Q518 1085 412.5 1023T223 930V1104Q374 1175 487 1276T647 1472H763Z"/><text transform="translate(799.94,543.3) scale(1,1.045)" font-size="46">.8</text>
<text transform="translate(932.83,543.3) scale(1,1.045)" font-size="46">2.0</text>
<text transform="translate(560.84,614.8) scale(1,1.045)" font-size="46">r</text>
<text transform="translate(41.5,244.6) rotate(-90)" font-size="46" font-style="italic" text-anchor="middle">&#951;</text>
<path d="M700.8,48.4 H767" stroke="#0000ff" stroke-width="5.6" fill="none"/>
<text transform="translate(786.70,58.8) scale(1,1.04)" font-size="40">B</text><path d="M826.89,42.70h19.30v3.30h-19.30zM826.89,52.00h19.30v3.30h-19.30z"/><text transform="translate(858.97,58.8) scale(1,1.04)" font-size="40">0.05</text>
<path d="M700.8,121.8 H767" stroke="#00ff00" stroke-width="5.6" fill="none"/>
<text transform="translate(786.70,132.2) scale(1,1.04)" font-size="40">B</text><path d="M826.89,116.12h19.30v3.30h-19.30zM826.89,125.42h19.30v3.30h-19.30z"/><text transform="translate(858.97,132.2) scale(1,1.04)" font-size="40">0.</text><path transform="translate(892.33,132.2) scale(0.01953,-0.01953)" d="M763 0H583V1147Q518 1085 412.5 1023T223 930V1104Q374 1175 487 1276T647 1472H763Z"/>
<path d="M700.8,195.2 H767" stroke="#ff8000" stroke-width="5.6" fill="none"/>
<text transform="translate(786.70,205.6) scale(1,1.04)" font-size="40">B</text><path d="M826.89,189.54h19.30v3.30h-19.30zM826.89,198.84h19.30v3.30h-19.30z"/><text transform="translate(858.97,205.6) scale(1,1.04)" font-size="40">0.2</text>
<path d="M700.8,268.7 H767" stroke="#ff00ff" stroke-width="5.6" fill="none"/>
<text transform="translate(786.70,279.1) scale(1,1.04)" font-size="40">B</text><path d="M826.89,262.96h19.30v3.30h-19.30zM826.89,272.26h19.30v3.30h-19.30z"/><text transform="translate(858.97,279.1) scale(1,1.04)" font-size="40">0.3</text>
<path d="M700.8,342.1 H767" stroke="#00ffff" stroke-width="5.6" fill="none"/>
<text transform="translate(786.70,352.5) scale(1,1.04)" font-size="40">B</text><path d="M826.89,336.38h19.30v3.30h-19.30zM826.89,345.68h19.30v3.30h-19.30z"/><text transform="translate(858.97,352.5) scale(1,1.04)" font-size="40">0.4</text>
<path d="M700.8,415.5 H767" stroke="#ff0000" stroke-width="5.6" fill="none"/>
<text transform="translate(786.70,425.9) scale(1,1.04)" font-size="40">B</text><path d="M826.89,409.80h19.30v3.30h-19.30zM826.89,419.10h19.30v3.30h-19.30z"/><text transform="translate(858.97,425.9) scale(1,1.04)" font-size="40">0.5</text>
</svg></body></html>
